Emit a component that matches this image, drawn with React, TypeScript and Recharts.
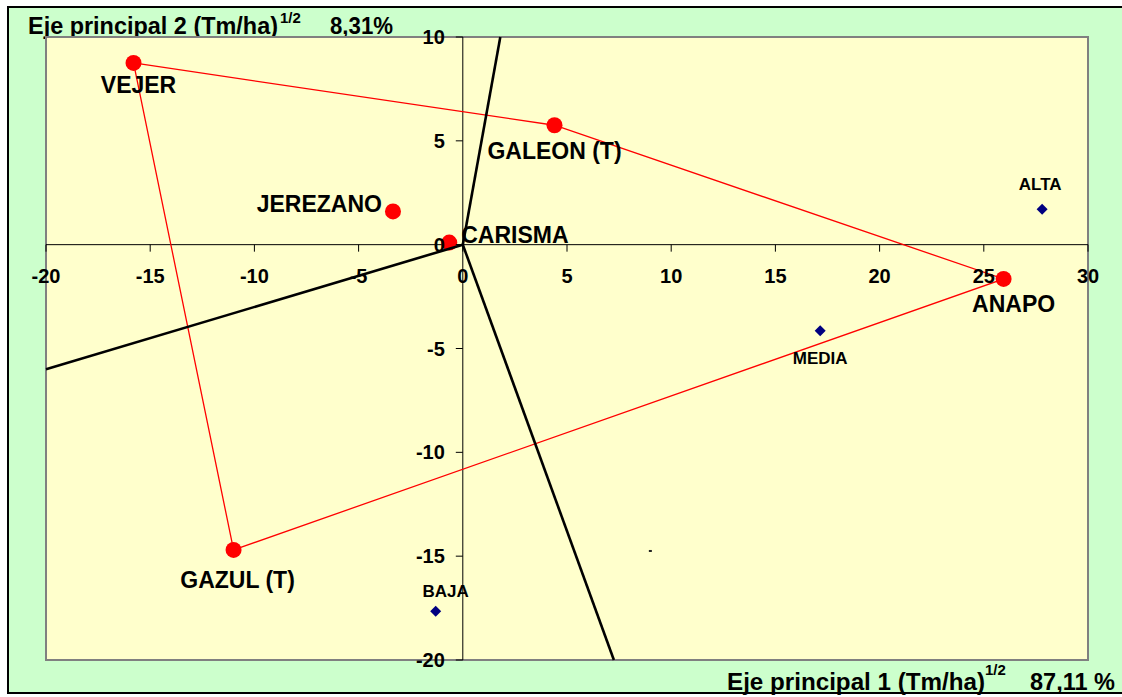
import { ScatterChart, Scatter, XAxis, YAxis, ReferenceArea, ReferenceLine } from 'recharts';

const FONT = '"Liberation Sans", Arial, Helvetica, sans-serif';

// axis ticks
const xTicks = [-20, -15, -10, -5, 0, 5, 10, 15, 20, 25, 30];
const yTicks = [10, 5, 0, -5, -10, -15, -20];

// cultivars (red dots)
const cultivarNames = ['VEJER', 'GALEON (T)', 'JEREZANO', 'CARISMA', 'ANAPO', 'GAZUL (T)'];
const cultivarX = [-15.8, 4.4, -3.35, -0.65, 25.95, -11.0];
const cultivarY = [8.75, 5.75, 1.6, 0.1, -1.65, -14.7];

// environments (blue diamonds)
const envNames = ['ALTA', 'MEDIA', 'BAJA'];
const envX = [27.8, 17.15, -1.3];
const envY = [1.7, -4.15, -17.65];

// polygon vertices, in drawing order
const hullOrder = ['VEJER', 'GALEON (T)', 'ANAPO', 'GAZUL (T)', 'VEJER'];

// sector lines drawn from the origin
const rayX = [1.8, 7.25, -20];
const rayY = [10, -20, -6.0];

// stray mark in the original
const strayX = [9.0];
const strayY = [-14.75];

const cultivars = cultivarNames.map((name, i) => ({ name, x: cultivarX[i], y: cultivarY[i] }));
const envs = envNames.map((name, i) => ({ name, x: envX[i], y: envY[i] }));
const hull = hullOrder.map((n) => cultivars.find((c) => c.name === n)!);
const rays = rayX.map((x, i) => [{ x: 0, y: 0 }, { x, y: rayY[i] }]);
const stray = strayX.map((x, i) => ({ x, y: strayY[i] }));
const xTickData = xTicks.map((t) => ({ x: t, y: 0, label: String(t) }));
const yTickData = yTicks.map((t) => ({ x: 0, y: t, label: String(t) }));

type Pos = { dx: number; dy: number; anchor: 'start' | 'middle' | 'end' };

const cultivarLabelPos: Record<string, Pos> = {
  VEJER: { dx: 5, dy: 30, anchor: 'middle' },
  'GALEON (T)': { dx: 0, dy: 34, anchor: 'middle' },
  JEREZANO: { dx: -11, dy: 1, anchor: 'end' },
  CARISMA: { dx: 12, dy: 0, anchor: 'start' },
  ANAPO: { dx: 10, dy: 33, anchor: 'middle' },
  'GAZUL (T)': { dx: 4, dy: 38, anchor: 'middle' },
};

const envLabelPos: Record<string, Pos> = {
  ALTA: { dx: -2, dy: -19, anchor: 'middle' },
  MEDIA: { dx: 0, dy: 33, anchor: 'middle' },
  BAJA: { dx: 10, dy: -14, anchor: 'middle' },
};

const Empty = () => <g />;

function CultivarShape(props: any) {
  const { cx, cy } = props;
  return <circle cx={cx} cy={cy} r={8} fill="#FF0000" />;
}

function CultivarLabel(props: any) {
  const { cx, cy, payload } = props;
  const p = cultivarLabelPos[payload.name];
  return (
    <text x={cx + p.dx} y={cy + p.dy} textAnchor={p.anchor} fontSize={23} fontWeight="bold" fontFamily={FONT} fill="#000">
      {payload.name}
    </text>
  );
}

function EnvShape(props: any) {
  const { cx, cy, payload } = props;
  const p = envLabelPos[payload.name];
  const s = 5.5;
  return (
    <g>
      <polygon points={`${cx},${cy - s} ${cx + s},${cy} ${cx},${cy + s} ${cx - s},${cy}`} fill="#000080" />
      <text x={cx + p.dx} y={cy + p.dy} textAnchor={p.anchor} fontSize={17} fontWeight="bold" fontFamily={FONT} fill="#000">
        {payload.name}
      </text>
    </g>
  );
}

function StrayShape(props: any) {
  const { cx, cy } = props;
  return <rect x={cx - 1.5} y={cy - 1} width={3} height={2} fill="#222" />;
}

function XTick(props: any) {
  const { cx, cy, payload } = props;
  return (
    <g>
      <line x1={cx} y1={cy} x2={cx} y2={cy + 7} stroke="#000" strokeWidth={1} />
      <text x={cx} y={cy + 38} textAnchor="middle" fontSize={20} fontWeight="bold" fontFamily={FONT} fill="#000">
        {payload.label}
      </text>
    </g>
  );
}

function YTick(props: any) {
  const { cx, cy, payload } = props;
  return (
    <g>
      <line x1={cx - 7} y1={cy} x2={cx} y2={cy} stroke="#000" strokeWidth={1} />
      <text x={cx - 18} y={cy + 7} textAnchor="end" fontSize={20} fontWeight="bold" fontFamily={FONT} fill="#000">
        {payload.label}
      </text>
    </g>
  );
}

export default function App() {
  return (
    <div style={{ position: 'absolute', left: 0, top: 0, width: 1122, height: 697, overflow: 'hidden' }}>
      {/* frame + axis titles */}
      <svg width={1122} height={697} style={{ position: 'absolute', left: 0, top: 0 }}>
        <rect x={8} y={7} width={1140} height={686} fill="#CCFFCC" stroke="#000" strokeWidth={2} />
        <g fontFamily={FONT} fontWeight="bold" fill="#000">
          <text x={28} y={34} fontSize={23} textLength={250} lengthAdjust="spacingAndGlyphs">Eje principal 2 (Tm/ha)</text>
          <text x={280} y={23} fontSize={15}>1/2</text>
          <text x={330} y={34} fontSize={23} textLength={63} lengthAdjust="spacingAndGlyphs">8,31%</text>
          <text x={727} y={690} fontSize={23} textLength={258} lengthAdjust="spacingAndGlyphs">Eje principal 1 (Tm/ha)</text>
          <text x={985} y={675} fontSize={15}>1/2</text>
          <text x={1030} y={690} fontSize={23} textLength={85} lengthAdjust="spacingAndGlyphs">87,11 %</text>
        </g>
      </svg>
      <div style={{ position: 'absolute', left: 0, top: 0 }}>
        <ScatterChart width={1122} height={697} margin={{ top: 37, right: 34, bottom: 37, left: 46 }}>
          <XAxis type="number" dataKey="x" domain={[-20, 30]} hide />
          <YAxis type="number" dataKey="y" domain={[-20, 10]} hide />
          <ReferenceArea x1={-20} x2={30} y1={-20} y2={10} fill="#FFFFCC" fillOpacity={1} stroke="#808080" strokeWidth={2} />
          <ReferenceLine x={0} stroke="#000" strokeWidth={1} />
          <ReferenceLine y={0} stroke="#000" strokeWidth={1} />
          <Scatter data={hull} shape={Empty} line={{ stroke: '#FF0000', strokeWidth: 1.3 }} isAnimationActive={false} />
          <Scatter data={cultivars} shape={CultivarShape} isAnimationActive={false} />
          {rays.map((r, i) => (
            <Scatter key={i} data={r} shape={Empty} line={{ stroke: '#000', strokeWidth: 2.6 }} isAnimationActive={false} />
          ))}
          <Scatter data={cultivars} shape={CultivarLabel} isAnimationActive={false} />
          <Scatter data={envs} shape={EnvShape} isAnimationActive={false} />
          <Scatter data={stray} shape={StrayShape} isAnimationActive={false} />
          <Scatter data={xTickData} shape={XTick} isAnimationActive={false} />
          <Scatter data={yTickData} shape={YTick} isAnimationActive={false} />
        </ScatterChart>
      </div>
    </div>
  );
}
